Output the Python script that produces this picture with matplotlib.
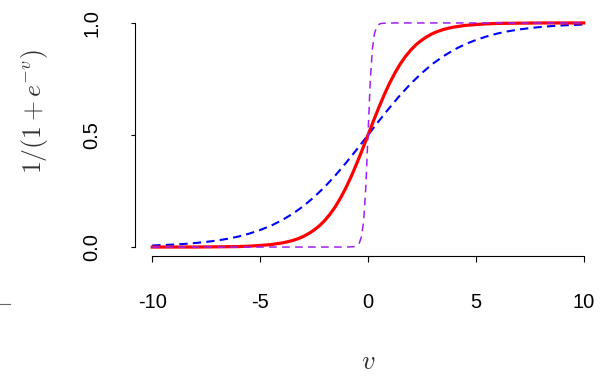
import matplotlib
matplotlib.use("Agg")
import matplotlib.pyplot as plt
from matplotlib.lines import Line2D

plt.rcParams['font.family'] = ['Liberation Sans', 'DejaVu Sans']
plt.rcParams['mathtext.fontset'] = 'cm'

# values
v_grid = [-10, -9.5, -9, -8.5, -8, -7.5, -7, -6.5, -6, -5.5, -5, -4.5, -4, -3.5,
          -3, -2.5, -2, -1.5, -1, -0.5, 0, 0.5, 1, 1.5, 2, 2.5, 3, 3.5, 4, 4.5,
          5, 5.5, 6, 6.5, 7, 7.5, 8, 8.5, 9, 9.5, 10]
blue_y = [0.007, 0.009, 0.011, 0.014, 0.018, 0.023, 0.029, 0.037, 0.047, 0.060,
          0.076, 0.095, 0.119, 0.148, 0.182, 0.223, 0.269, 0.321, 0.378, 0.438,
          0.500, 0.562, 0.622, 0.679, 0.731, 0.777, 0.818, 0.852, 0.881, 0.905,
          0.924, 0.940, 0.953, 0.963, 0.971, 0.977, 0.982, 0.986, 0.989, 0.991, 0.993]
v_red = [-10, -9, -8, -7, -6, -5.5, -5, -4.5, -4, -3.75, -3.5, -3.25, -3, -2.75,
         -2.5, -2.25, -2, -1.75, -1.5, -1.25, -1, -0.75, -0.5, -0.25, 0, 0.25,
         0.5, 0.75, 1, 1.25, 1.5, 1.75, 2, 2.25, 2.5, 2.75, 3, 3.25, 3.5, 3.75,
         4, 4.5, 5, 5.5, 6, 7, 8, 9, 10]
red_y = [0.000, 0.000, 0.000, 0.001, 0.002, 0.004, 0.007, 0.011, 0.018, 0.023,
         0.029, 0.037, 0.047, 0.060, 0.076, 0.095, 0.119, 0.148, 0.182, 0.223,
         0.269, 0.321, 0.378, 0.438, 0.500, 0.562, 0.622, 0.679, 0.731, 0.777,
         0.818, 0.852, 0.881, 0.905, 0.924, 0.940, 0.953, 0.963, 0.971, 0.977,
         0.982, 0.989, 0.993, 0.996, 0.998, 0.999, 1.000, 1.000, 1.000]
v_steep = [-10, -1, -0.6, -0.5, -0.4, -0.3, -0.2, -0.1, 0, 0.1, 0.2, 0.3, 0.4, 0.5, 0.6, 1, 10]
purple_y = [0.000, 0.000, 0.002, 0.007, 0.018, 0.047, 0.119, 0.269, 0.500,
            0.731, 0.881, 0.953, 0.982, 0.993, 0.998, 1.000, 1.000]

x_ticks = [-10, -5, 0, 5, 10]
y_ticks = [0.0, 0.5, 1.0]

W, H = 609, 376
fig = plt.figure(figsize=(W / 100, H / 100), dpi=100)
ax = fig.add_axes([135 / W, 1 - 256 / H, (601 - 135) / W, (256 - 14) / H])

ax.plot(v_grid, blue_y, color='#0000ff', lw=1.5, ls=(0, (4, 2.5)))
ax.plot(v_red, red_y, color='#ff0000', lw=2.3)
ax.plot(v_steep, purple_y, color='#a020f0', lw=1.1, ls=(0, (5, 3.5)))

ax.set_xlim(-10.8, 10.8)
ax.set_ylim(-0.04, 1.04)
for s in ['top', 'right']:
    ax.spines[s].set_visible(False)
ax.spines['bottom'].set_bounds(-10, 10)
ax.spines['left'].set_bounds(0, 1)
ax.spines['bottom'].set_linewidth(0.8)
ax.spines['left'].set_linewidth(0.8)

ax.set_xticks(x_ticks)
ax.set_xticklabels(['%d' % t for t in x_ticks])
ax.set_yticks(y_ticks)
ax.set_yticklabels(['%.1f' % t for t in y_ticks], rotation=90, va='center')
ax.tick_params(axis='x', length=4.5, width=0.8, pad=22, labelsize=14.5)
ax.tick_params(axis='y', length=3, width=0.8, pad=21, labelsize=14.5)

fig.text(35 / W, 1 - 112 / H, r'$1/(1+e^{-v})$', rotation=90, ha='center', va='center',
         fontsize=18.5, color='#333333')
fig.text(368 / W, 1 - 362 / H, r'$v$', ha='center', va='center', fontsize=19, color='#333333')

# small stray mark at the left edge
fig.add_artist(Line2D([0, 10 / W], [1 - 304 / H, 1 - 304 / H], color='#666666', lw=0.8))

fig.savefig('out.png', dpi=100)
